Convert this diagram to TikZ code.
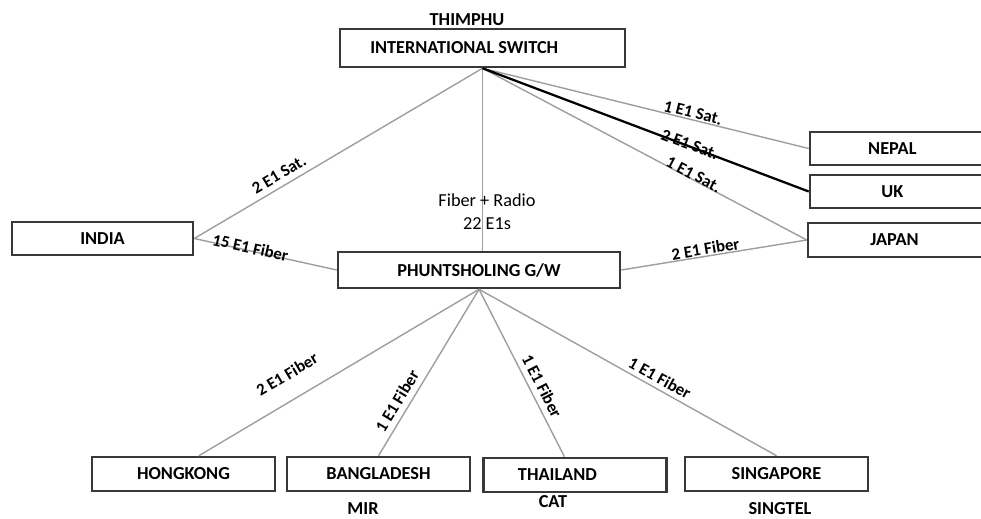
\documentclass[tikz,border=0pt]{standalone}
\usepackage{fontspec}
\setmainfont{Carlito}
\newdimen\pxu
\pxu=0.025cm

\begin{document}
\begin{tikzpicture}[x=0.025cm,y=-0.025cm,
    font=\fontsize{13}{15}\selectfont\bfseries,
    box/.style={draw=black!78,line width=1.8pt,minimum width=183\pxu,
        minimum height=34\pxu,inner sep=0pt},
    sidebox/.style={box,minimum width=190\pxu,minimum height=33\pxu},
    link/.style={black!38,line width=1pt},
    heavylink/.style={black,line width=1.6pt},
    elbl/.style={sloped,inner sep=0pt,text=black,
        font=\fontsize{12}{14}\selectfont\bfseries}]
    \useasboundingbox (0,0) rectangle (981,519);

    \node[box,minimum width=285\pxu,minimum height=38\pxu,
        label={[name=istext,xshift=-13pt]center:INTERNATIONAL SWITCH}]
        (is) at (482.5,48) {};
    \node (thimphu) at (467,20) {THIMPHU};
    \node[box,minimum width=282\pxu,minimum height=36\pxu] (pg) at (479,270)
        {PHUNTSHOLING G/W};
    \node[box,minimum width=181\pxu,minimum height=33\pxu] (india) at (102.5,238.5)
        {INDIA};

    \node[sidebox,label={[name=nepaltext,xshift=-9pt]center:NEPAL}] (nepal) at (905,148.5) {};
    \node[sidebox,label={[name=uktext,xshift=-9pt]center:UK}] (uk) at (905,191.5) {};
    \node[sidebox,minimum height=34\pxu,
        label={[name=japantext,xshift=-6pt]center:JAPAN}] (japan) at (903,240) {};

    \foreach \n/\xx/\lab in {hk/183.5/HONGKONG,bd/378.5/BANGLADESH,sg/776.5/SINGAPORE}{
        \node[box] (\n) at (\xx,474) {\lab};
    }
    \node[box,label={[name=thtext,xshift=-12.5pt]center:THAILAND}] (th) at (575,475) {};

    \node (mir) at (363,509) {MIR};
    \node (cat) at (553,502) {CAT};
    \node (singtel) at (780,509) {SINGTEL};

    \draw[link] (is.south) -- (is.south |- pg.north);
    \node[font=\fontsize{13}{16.3}\selectfont,align=center] (fr) at (487,212)
        {Fiber + Radio\\22 E1s};

    \draw[link] (india.east) -- node[elbl,pos=0.315,above=4pt] {2 E1 Sat.} (is.south);
    \draw[link] (india.east) -- node[elbl,pos=0.39,above=-2.5pt] {15 E1 Fiber} (pg.west);

    \draw[link] (is.south) -- node[elbl,pos=0.64,above=0.5pt] {1 E1 Sat.} (nepal.west);
    \draw[link] (is.south) -- node[elbl,pos=0.644,above=-1pt] {1 E1 Sat.} (japan.west);
    \draw[heavylink] (is.south) -- node[elbl,pos=0.634,above=-3.5pt] {2 E1 Sat.} (uk.west);
    \draw[link] (pg.east) -- node[elbl,pos=0.46,above=0.5pt] {2 E1 Fiber} (japan.west);

    \draw[link] (hk.50) -- node[elbl,pos=0.36,above=13pt] {2 E1 Fiber} (pg.south);
    \draw[link] (bd.north) -- node[elbl,pos=0.29,above=4pt] {1 E1 Fiber} (pg.south);
    \draw[link] (pg.south) -- node[elbl,pos=0.61,above=4pt] {1 E1 Fiber} (th.120);
    \draw[link] (pg.south) -- node[elbl,pos=0.59,above=3pt] {1 E1 Fiber} (sg.north);
\end{tikzpicture}
\end{document}
